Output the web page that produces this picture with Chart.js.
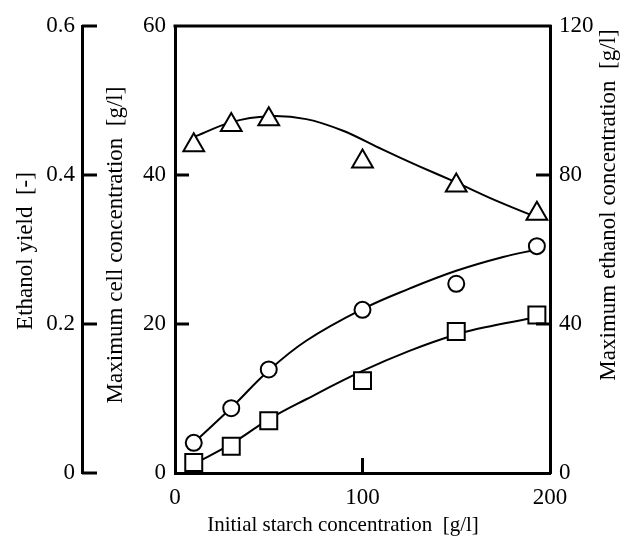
<!DOCTYPE html>
<html><head><meta charset="utf-8">
<script src="https://cdn.jsdelivr.net/npm/chart.js@4.4.0/dist/chart.umd.min.js"></script>
<style>html,body{margin:0;padding:0;background:#fff;} #wrap{width:621px;height:539px;position:relative;}</style>
</head><body><div id="wrap"><canvas id="c" width="621" height="539"></canvas></div>
<script>
// ---- data ----
const starchX = [10, 30, 50, 100, 150, 193];
const ethanolYield = [0.44, 0.467, 0.475, 0.418, 0.386, 0.348];
const ethanolConc = [8.1, 17.4, 27.8, 43.8, 50.8, 60.9];
const cellConc = [1.4, 3.6, 7.0, 12.4, 19.0, 21.2];

// fitted curves
const yieldCurveX = [10, 30, 50, 70, 90, 110, 130, 150, 170, 193];
const yieldCurveY = [0.451, 0.471, 0.479, 0.475, 0.459, 0.435, 0.412, 0.390, 0.367, 0.343];
const ethCurveX = [10, 30, 50, 70, 100, 125, 150, 175, 193];
const ethCurveY = [8.1, 17.5, 27.5, 35.5, 44, 49.5, 54.3, 58, 60];
const cellCurveX = [10, 30, 50, 70, 100, 125, 150, 170, 193];
const cellCurveY = [1.2, 3.9, 7.2, 9.9, 13.7, 16.4, 18.6, 19.8, 20.9];

const xTicks = [0, 100, 200];
const yieldTicks = [0, 0.2, 0.4, 0.6];
const cellTicks = [0, 20, 40, 60];
const ethTicks = [0, 40, 80, 120];
const xInnerTicks = [100];
const cellInnerTicks = [20, 40];
const ethInnerTicks = [40, 80];

const xTitle = 'Initial starch concentration  [g/l]';
const yieldTitle = 'Ethanol yield  [-]';
const cellTitle = 'Maximum cell concentration  [g/l]';
const ethTitle = 'Maximum ethanol concentration  [g/l]';

const FONT = "'Liberation Serif', 'Times New Roman', serif";
const pts = (xs, ys) => xs.map((x, i) => ({x: x, y: ys[i]}));

const decor = {
  id: 'decor',
  afterDraw(chart) {
    const ctx = chart.ctx, a = chart.chartArea, s = chart.scales;
    ctx.save();
    ctx.strokeStyle = '#000';
    ctx.lineWidth = 3;
    const line = (x1, y1, x2, y2) => { ctx.beginPath(); ctx.moveTo(x1, y1); ctx.lineTo(x2, y2); ctx.stroke(); };
    line(a.left - 1.5, a.top, a.right + 1.5, a.top);
    const yx = s.yYield.right;
    yieldTicks.forEach(v => { const y = s.yYield.getPixelForValue(v); line(yx, y, yx + 15, y); });
    cellInnerTicks.forEach(v => { const y = s.yCell.getPixelForValue(v); line(a.left, y, a.left + 14, y); });
    ethInnerTicks.forEach(v => { const y = s.yEth.getPixelForValue(v); line(a.right, y, a.right - 14, y); });
    xInnerTicks.forEach(v => { const x = s.x.getPixelForValue(v); line(x, a.bottom, x, a.bottom - 15); });

    ctx.fillStyle = '#000';
    ctx.textAlign = 'center';
    ctx.textBaseline = 'middle';
    ctx.font = '21px ' + FONT;
    ctx.fillText(xTitle, 343, 525);
    const vt = (t, x, y) => { ctx.save(); ctx.translate(x, y); ctx.rotate(-Math.PI / 2); ctx.fillText(t, 0, 0); ctx.restore(); };
    ctx.font = '23px ' + FONT;
    vt(yieldTitle, 26, 251);
    vt(cellTitle, 116, 245);
    vt(ethTitle, 609, 205);
    ctx.restore();
  }
};

const tickFont = {family: FONT, size: 23};
const common = (ticks, pad) => ({
  grid: {display: true, drawOnChartArea: false, drawTicks: false},
  border: {display: true, color: '#000', width: 3},
  ticks: {color: '#000', font: tickFont, padding: pad, callback: v => String(v)},
});

new Chart(document.getElementById('c'), {
  type: 'scatter',
  data: {
    datasets: [
      {data: pts(starchX, ethanolYield), yAxisID: 'yYield', pointStyle: 'triangle', pointRadius: 12,
       borderColor: '#000', backgroundColor: '#fff', borderWidth: 2, showLine: false, order: 0},
      {data: pts(starchX, ethanolConc), yAxisID: 'yEth', pointStyle: 'circle', pointRadius: 8,
       borderColor: '#000', backgroundColor: '#fff', borderWidth: 2, showLine: false, order: 0},
      {data: pts(starchX, cellConc), yAxisID: 'yCell', pointStyle: 'rect', pointRadius: 12,
       borderColor: '#000', backgroundColor: '#fff', borderWidth: 2, showLine: false, order: 0},
      {data: pts(yieldCurveX, yieldCurveY), yAxisID: 'yYield', showLine: true, pointRadius: 0,
       borderColor: '#000', borderWidth: 2, tension: 0.3, fill: false, order: 1},
      {data: pts(ethCurveX, ethCurveY), yAxisID: 'yEth', showLine: true, pointRadius: 0,
       borderColor: '#000', borderWidth: 2, tension: 0.4, fill: false, order: 1},
      {data: pts(cellCurveX, cellCurveY), yAxisID: 'yCell', showLine: true, pointRadius: 0,
       borderColor: '#000', borderWidth: 2, tension: 0.4, fill: false, order: 1}
    ]
  },
  options: {
    responsive: false, animation: false,
    layout: {padding: {top: 26, left: 0, right: 0, bottom: 0}},
    plugins: {legend: {display: false}, tooltip: {enabled: false}},
    scales: {
      x: Object.assign(common(xTicks, 11), {type: 'linear', position: 'bottom', min: 0, max: 200,
        afterBuildTicks: s => { s.ticks = xTicks.map(v => ({value: v})); },
        afterFit: s => { s.height = 66; }}),
      yYield: Object.assign(common(yieldTicks, 7), {type: 'linear', position: 'left', weight: 2, min: 0, max: 0.6,
        afterBuildTicks: s => { s.ticks = yieldTicks.map(v => ({value: v})); },
        afterFit: s => { s.width = 82; }}),
      yCell: Object.assign(common(cellTicks, 9), {type: 'linear', position: 'left', weight: 1, min: 0, max: 60,
        afterBuildTicks: s => { s.ticks = cellTicks.map(v => ({value: v})); },
        afterFit: s => { s.width = 93; }}),
      yEth: Object.assign(common(ethTicks, 9), {type: 'linear', position: 'right', weight: 1, min: 0, max: 120,
        afterBuildTicks: s => { s.ticks = ethTicks.map(v => ({value: v})); },
        afterFit: s => { s.width = 71; }})
    }
  },
  plugins: [decor]
});
</script></body></html>
